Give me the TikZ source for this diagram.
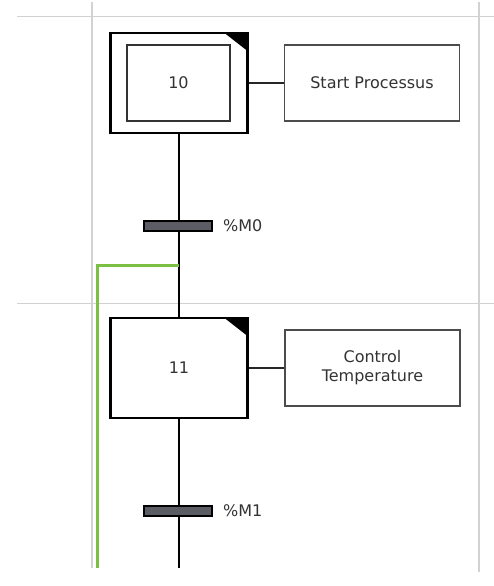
\documentclass[tikz,border=0pt]{standalone}
\usepackage{fontspec}
\setmainfont{DejaVu Sans}
\definecolor{gridc}{HTML}{D2D2D2}
\definecolor{txt}{HTML}{333333}
\definecolor{barc}{HTML}{5C5C64}
\definecolor{grn}{HTML}{7CC043}
\begin{document}
\begin{tikzpicture}[x=1pt,y=-1pt,
  grid/.style={draw=gridc,line width=1.4pt},
  stepbox/.style={draw=black,line width=2.6pt,fill=white,minimum width=137pt,minimum height=100pt,inner sep=0pt,text=txt,font=\fontsize{16}{19}\selectfont},
  innerbox/.style={draw=black!80,line width=1.6pt,minimum width=103pt,minimum height=76pt,inner sep=0pt,text=txt,font=\fontsize{16}{19}\selectfont},
  actbox/.style={draw=black!70,line width=1.7pt,fill=white,minimum width=175pt,minimum height=76pt,inner sep=0pt,align=center,text=txt,font=\fontsize{16}{19}\selectfont},
  trans/.style={draw=black,line width=1.8pt,fill=barc,minimum width=68pt,minimum height=10pt,inner sep=0pt},
  tlabel/.style={anchor=west,text=txt,inner sep=0pt,font=\fontsize{16}{19}\selectfont},
  link/.style={draw=black,line width=2.7pt},
  actlink/.style={draw=black!85,line width=1.4pt},
  corner/.style={fill=black}]
\useasboundingbox (0,0) rectangle (494,586);
% grid
\draw[grid] (92,2) -- (92,568);
\draw[grid] (479,2) -- (479,572);
\draw[grid,line width=1pt] (17,17) -- (494,17);
\draw[grid,line width=1pt] (17,303) -- (494,303);
% coordinates
\coordinate (j) at (179,265);
\coordinate (jl) at (97,265);
\coordinate (gend) at (97,568);
\coordinate (send) at (179,568);
% nodes
\node[stepbox] (s10) at (179,83) {};
\node[innerbox] (i10) at (178.5,83) {10};
\node[actbox] (a10) at (372,83) {Start Processus};
\node[stepbox] (s11) at (179,368) {11};
\node[actbox] (a11) at (372.5,368) {Control\\Temperature};
% links
\draw[link] (s10.south) -- (s11.north);
\draw[link] (s11.south) -- (send);
\draw[actlink] (s10.east) -- (a10.west);
\draw[actlink,line width=1.2pt] (s11.east) -- (a11.west);
\draw[draw=grn,line width=3pt] (j) -- (jl) -- (gend);
% corners
\fill[corner] ([xshift=-1.3pt,yshift=-1.3pt]s10.north east) -- ++(-23,0) -- ++(23,18) -- cycle;
\fill[corner] ([xshift=-1.3pt,yshift=-1.3pt]s11.north east) -- ++(-23,0) -- ++(23,18) -- cycle;
% transitions
\node[trans] (t0) at (178,226) {};
\node[tlabel] (l0) at ([xshift=10pt]t0.east) {\%M0};
\node[trans] (t1) at (178,511) {};
\node[tlabel] (l1) at ([xshift=10pt]t1.east) {\%M1};
\end{tikzpicture}
\end{document}
